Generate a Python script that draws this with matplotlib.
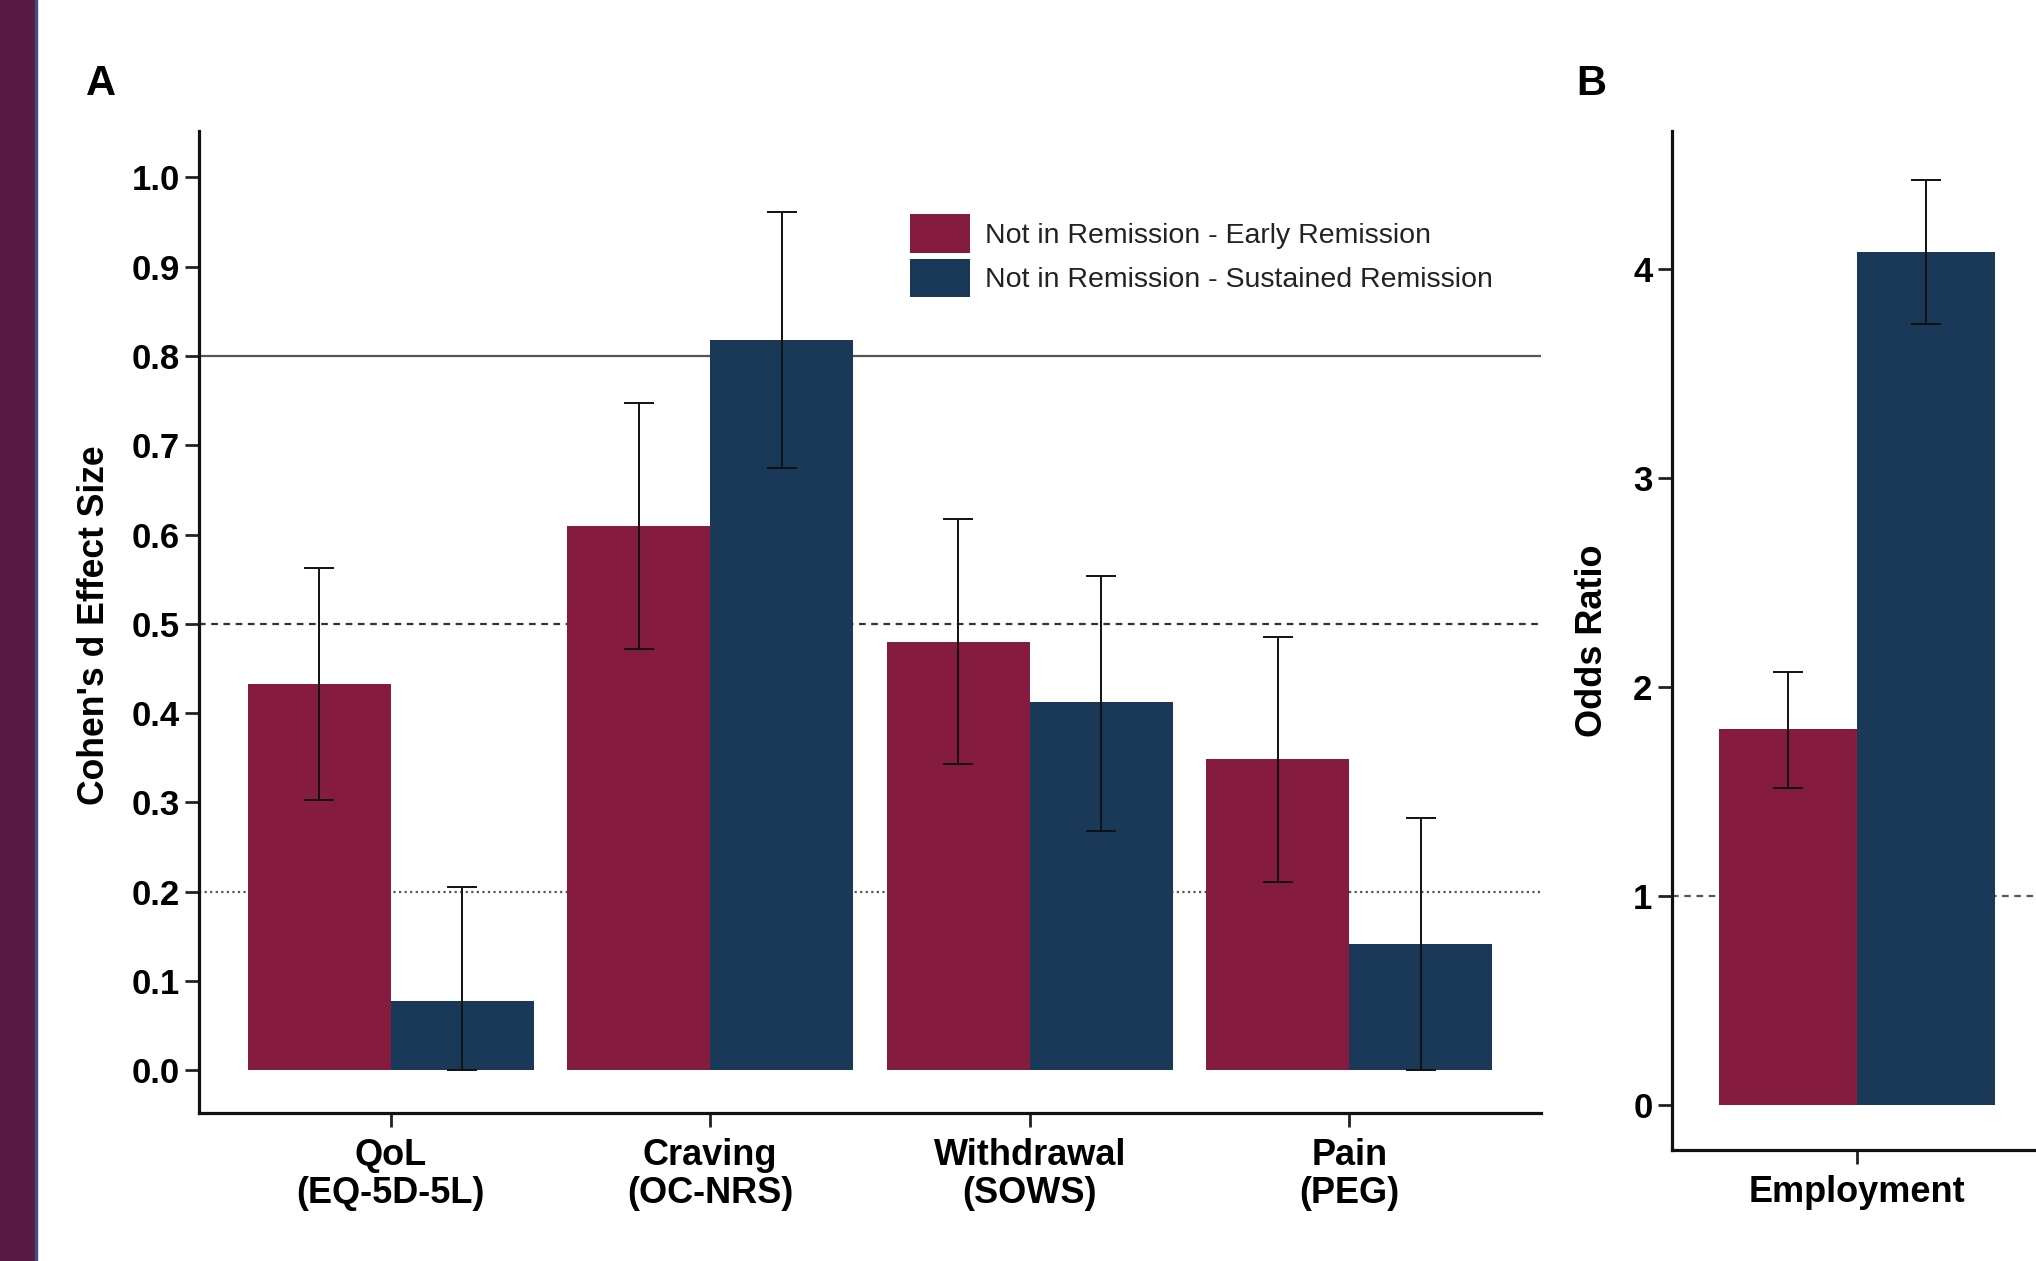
import numpy as np
import matplotlib.pyplot as plt
from matplotlib.patches import Rectangle

plt.rcParams['font.family'] = ['Liberation Sans', 'DejaVu Sans']

# ---------------- data ----------------
outcomes = ['QoL\n(EQ-5D-5L)', 'Craving\n(OC-NRS)', 'Withdrawal\n(SOWS)', 'Pain\n(PEG)']
series = ['Not in Remission - Early Remission', 'Not in Remission - Sustained Remission']

early_d = [0.432, 0.610, 0.480, 0.349]
early_lo = [0.303, 0.472, 0.343, 0.211]
early_hi = [0.563, 0.747, 0.617, 0.485]

sust_d = [0.077, 0.818, 0.412, 0.141]
sust_lo = [0.000, 0.674, 0.268, 0.000]
sust_hi = [0.205, 0.961, 0.553, 0.282]

d_ticks = [0.0, 0.1, 0.2, 0.3, 0.4, 0.5, 0.6, 0.7, 0.8, 0.9, 1.0]

emp_label = ['Employment']
emp_or = [1.795, 4.081]
emp_lo = [1.516, 3.733]
emp_hi = [2.068, 4.422]
or_ticks = [0, 1, 2, 3, 4]

red = '#851B3F'
blue = '#1A3858'
W, H = 2036, 1261

fig = plt.figure(figsize=(W / 100, H / 100), dpi=100)

# purple strip on the left edge
fig.patches.append(Rectangle((0, 0), 35 / W, 1, transform=fig.transFigure,
                             color='#5A1A45', zorder=0))
fig.patches.append(Rectangle((35 / W, 0), 2 / W, 1, transform=fig.transFigure,
                             color='#45507A', zorder=0))


def style_axes(ax):
    for s in ['top', 'right']:
        ax.spines[s].set_visible(False)
    for s in ['left', 'bottom']:
        ax.spines[s].set_linewidth(2.3)
        ax.spines[s].set_color('#111111')
    ax.tick_params(direction='out', length=10, width=2, color='#222222', pad=4)
    ax.tick_params(axis='y', labelsize=25)
    ax.tick_params(axis='x', labelsize=26, pad=8)
    for lab in ax.get_xticklabels() + ax.get_yticklabels():
        lab.set_fontweight('bold')


# ---------------- panel A ----------------
axA = fig.add_axes([199 / W, 1 - 1113 / H, (1541 - 199) / W, (1113 - 131) / H])
x = np.arange(len(outcomes))
bw = 0.447

axA.axhline(0.8, color='#555555', lw=1.6, zorder=1)
axA.axhline(0.5, color='#333333', lw=1.6, ls=(0, (3, 2.5)), zorder=1)
axA.axhline(0.2, color='#555555', lw=1.6, ls=(0, (1, 1.5)), zorder=1)

axA.bar(x - bw / 2, early_d, bw, color=red, label=series[0], zorder=2)
axA.bar(x + bw / 2, sust_d, bw, color=blue, label=series[1], zorder=2)

e_err = [np.array(early_d) - np.array(early_lo), np.array(early_hi) - np.array(early_d)]
s_err = [np.array(sust_d) - np.array(sust_lo), np.array(sust_hi) - np.array(sust_d)]
axA.errorbar(x - bw / 2, early_d, yerr=e_err, fmt='none', ecolor='#111111',
             elinewidth=1.4, capsize=11, capthick=1.4, zorder=3)
axA.errorbar(x + bw / 2, sust_d, yerr=s_err, fmt='none', ecolor='#111111',
             elinewidth=1.4, capsize=11, capthick=1.4, zorder=3)

axA.set_xlim(-0.6, 3.6)
axA.set_ylim(-0.048, 1.052)
axA.set_yticks(d_ticks)
axA.set_yticklabels([f'{t:.1f}' for t in d_ticks])
axA.set_xticks(x)
axA.set_xticklabels(outcomes, linespacing=1.12)
style_axes(axA)

axA.legend(loc='upper left', bbox_to_anchor=(910 / W, 1 - 214 / H),
           bbox_transform=fig.transFigure, frameon=False, fontsize=20.5,
           handlelength=2.1, handleheight=1.72, labelspacing=0.2,
           handletextpad=0.55, borderpad=0, borderaxespad=0,
           labelcolor='#222222')

fig.text(95 / W, 1 - 625 / H, "Cohen's d Effect Size", rotation=90,
         ha='center', va='center', fontsize=25.6, fontweight='bold')

# ---------------- panel B ----------------
axB = fig.add_axes([1672 / W, 1 - 1150 / H, (2042 - 1672) / W, (1150 - 131) / H])
xb = np.arange(len(emp_label))
axB.axhline(1, color='#555555', lw=1.6, ls=(0, (3, 2.5)), zorder=1)
axB.bar(xb - bw / 2, [emp_or[0]], bw, color=red, zorder=2)
axB.bar(xb + bw / 2, [emp_or[1]], bw, color=blue, zorder=2)
b_err = [[emp_or[0] - emp_lo[0]], [emp_hi[0] - emp_or[0]]]
axB.errorbar(xb - bw / 2, [emp_or[0]], yerr=b_err, fmt='none', ecolor='#111111',
             elinewidth=1.4, capsize=11, capthick=1.4, zorder=3)
b_err2 = [[emp_or[1] - emp_lo[1]], [emp_hi[1] - emp_or[1]]]
axB.errorbar(xb + bw / 2, [emp_or[1]], yerr=b_err2, fmt='none', ecolor='#111111',
             elinewidth=1.4, capsize=11, capthick=1.4, zorder=3)
axB.set_xlim(-0.6, 0.6)
axB.set_ylim(-0.217, 4.658)
axB.set_yticks(or_ticks)
axB.set_xticks(xb)
axB.set_xticklabels(emp_label)
style_axes(axB)

fig.text(1592 / W, 1 - 641 / H, 'Odds Ratio', rotation=90,
         ha='center', va='center', fontsize=26, fontweight='bold')

# panel letters
fig.text(86 / W, 1 - 95 / H, 'A', fontsize=30, fontweight='bold', ha='left', va='baseline')
fig.text(1576 / W, 1 - 95 / H, 'B', fontsize=30, fontweight='bold', ha='left', va='baseline')

fig.savefig('out.png', dpi=100)
